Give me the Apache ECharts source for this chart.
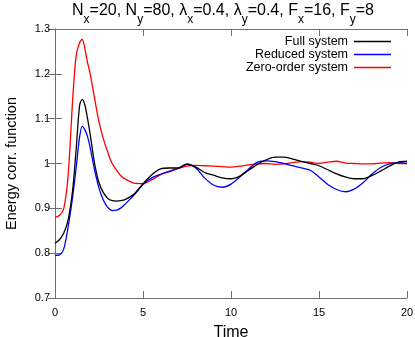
<!DOCTYPE html>
<html>
<head>
<meta charset="utf-8">
<script src="https://cdn.jsdelivr.net/npm/echarts@6/dist/echarts.min.js"></script>
<style>html,body{margin:0;padding:0;background:#fff}#c{width:415px;height:337px}</style>
</head>
<body>
<div id="c"></div>
<script>
var time = [0,0.25,0.5,0.75,1.0,1.2,1.4,1.55,1.7,1.85,2.0,2.25,2.5,2.75,3.0,3.25,3.5,3.75,4.0,4.5,5.0,5.5,6.0,6.5,7.0,7.5,8.0,8.5,9.0,9.5,10.0,10.5,11.0,11.5,12.0,12.5,13.0,13.5,14.0,14.5,15.0,15.5,16.0,16.5,17.0,17.5,18.0,18.5,19.0,19.5,20];
var fullSystem = [0.822,0.830,0.845,0.875,0.94,1.03,1.13,1.143,1.13,1.10,1.065,1.0,0.957,0.935,0.922,0.917,0.916,0.917,0.92,0.932,0.955,0.975,0.988,0.99,0.99,0.998,0.992,0.98,0.974,0.968,0.966,0.972,0.985,0.998,1.008,1.014,1.014,1.01,1.005,1.0,0.995,0.986,0.977,0.97,0.966,0.966,0.973,0.983,0.994,1.003,1.005];
var reducedSystem = [0.795,0.796,0.81,0.86,0.925,0.99,1.06,1.083,1.075,1.06,1.035,0.985,0.945,0.918,0.902,0.895,0.896,0.901,0.91,0.93,0.953,0.968,0.976,0.982,0.989,0.999,0.99,0.968,0.952,0.947,0.954,0.97,0.988,1.003,1.006,1.004,1.0,0.995,0.99,0.985,0.97,0.953,0.942,0.937,0.943,0.957,0.976,0.991,0.999,1.002,1.0];
var zeroOrderSystem = [0.88,0.884,0.9,0.975,1.14,1.24,1.27,1.277,1.255,1.225,1.2,1.145,1.093,1.055,1.025,1.0,0.985,0.972,0.965,0.956,0.955,0.964,0.975,0.983,0.989,0.994,0.996,0.995,0.994,0.993,0.992,0.994,0.997,0.999,1.0,0.998,0.999,1.002,1.004,1.003,1.0,1.003,1.005,1.001,1.0,0.999,0.999,1.001,1.002,1.0,1.0];
var seriesNames = ['Full system','Reduced system','Zero-order system'];
var seriesColors = ['#000000','#0000ff','#ff0000'];
var xTicks = [0,5,10,15,20];
var yTicks = [0.7,0.8,0.9,1.0,1.1,1.2,1.3];

function pairs(ys){ return time.map(function(t,i){ return [t, ys[i]]; }); }
var FONT = 'Liberation Sans';
var chart = echarts.init(document.getElementById('c'), null, {renderer:'canvas'});
var border = '#707070';
function axisCommon(extra){
  var o = {
    axisLine:{show:true,lineStyle:{color:border,width:1}},
    axisTick:{show:true,inside:true,length:7,lineStyle:{color:border,width:1}},
    splitLine:{show:false}
  };
  for (var k in extra) o[k]=extra[k];
  return o;
}
var option = {
  animation:false,
  textStyle:{fontFamily:FONT},
  title:{
    text:'N{s|x}=20, N{s|y}=80, λ{s|x}=0.4, λ{s|y}=0.4, F{s|x}=16, F{s|y}=8',
    left:72, top:-4, padding:0,
    textStyle:{fontFamily:FONT,fontSize:16,fontWeight:'normal',color:'#000',
      rich:{s:{fontFamily:FONT,fontSize:12,padding:[18,0,0,0],color:'#000'}}}
  },
  grid:{left:55,right:8,top:29,bottom:39,containLabel:false,outerBoundsMode:'none'},
  legend:{
    orient:'vertical', right:19, top:30, align:'right', padding:5,
    itemWidth:37, itemHeight:1.5, itemGap:0, icon:'rect',
    data:seriesNames,
    textStyle:{fontFamily:FONT,fontSize:12.5,color:'#000',lineHeight:12.5,padding:[0,1,0,0]}
  },
  xAxis:[
    axisCommon({type:'value',min:xTicks[0],max:xTicks[xTicks.length-1],interval:5,position:'bottom',
      name:'Time',nameLocation:'middle',nameGap:27,
      nameTextStyle:{fontFamily:FONT,fontSize:16,color:'#000'},
      axisLabel:{fontFamily:FONT,fontSize:11,color:'#000',margin:9}}),
    axisCommon({type:'value',min:xTicks[0],max:xTicks[xTicks.length-1],interval:5,position:'top',
      axisLabel:{show:false}})
  ],
  yAxis:[
    axisCommon({type:'value',min:yTicks[0],max:yTicks[yTicks.length-1],interval:0.1,position:'left',
      name:'Energy corr. function',nameLocation:'middle',nameGap:36,
      nameTextStyle:{fontFamily:FONT,fontSize:14.5,color:'#000'},
      axisLabel:{fontFamily:FONT,fontSize:11,color:'#000',margin:5,
        formatter:function(v){ return String(+v.toFixed(1)); }}}),
    axisCommon({type:'value',min:yTicks[0],max:yTicks[yTicks.length-1],interval:0.1,position:'right',
      axisLabel:{show:false}})
  ],
  series:[fullSystem,reducedSystem,zeroOrderSystem].map(function(d,i){
    return {
      name:seriesNames[i], type:'line', data:pairs(d), xAxisIndex:0, yAxisIndex:0,
      showSymbol:false, symbol:'none', smooth:0.3,
      lineStyle:{color:seriesColors[i],width:1.3},
      itemStyle:{color:seriesColors[i]},
      z: 3-i
    };
  })
};
chart.setOption(option);
</script>
</body>
</html>
